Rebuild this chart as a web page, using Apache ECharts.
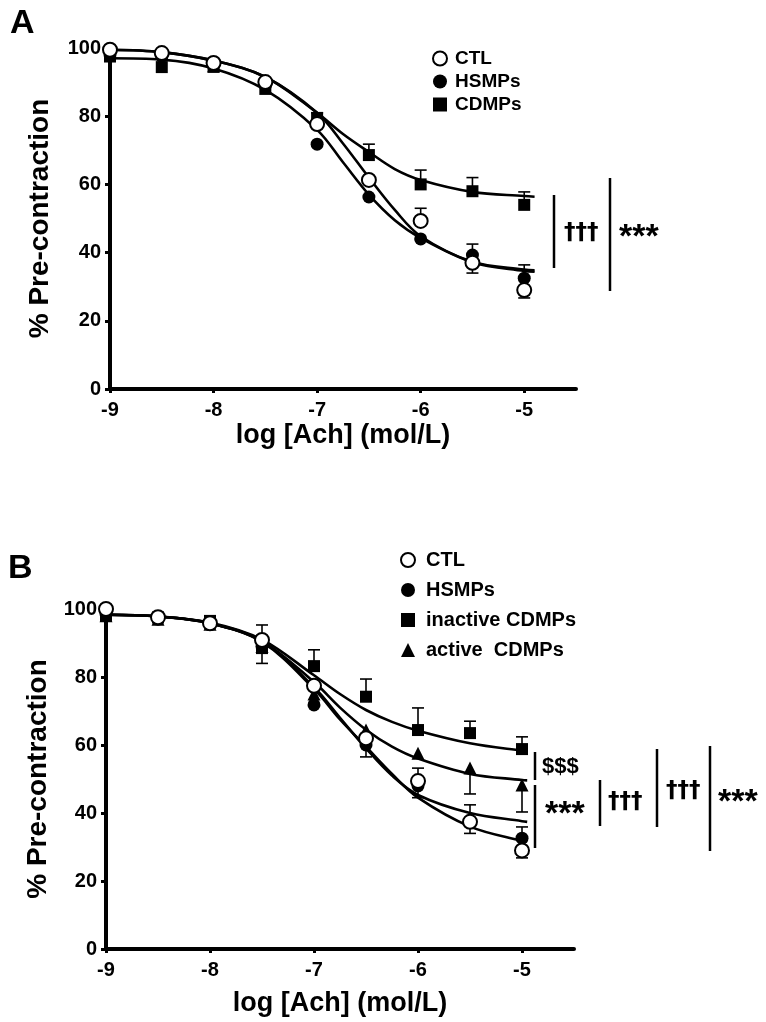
<!DOCTYPE html>
<html><head><meta charset="utf-8">
<script src="https://cdn.jsdelivr.net/npm/echarts@6/dist/echarts.min.js"></script>
<style>html,body{margin:0;padding:0;background:#fff}#c{width:766px;height:1022px}</style>
</head><body><div id="c"></div>
<script>
// ---------- shared ----------
const doses = [-9, -8.5, -8, -7.5, -7, -6.5, -6, -5.5, -5];
const xTicks = [-9, -8, -7, -6, -5];
const yTicks = [0, 20, 40, 60, 80, 100];

// ---------- Panel A ----------
const aNames = ['CTL', 'HSMPs', 'CDMPs'];
const aCtl  = [99.5, 98.5, 95.6, 90.0, 77.7, 61.3, 49.3, 37.0, 29.0];
const aHsmp = [98.0, 97.5, 95.0, 89.0, 71.8, 56.3, 44.0, 39.3, 32.5];
const aCdmp = [97.5, 94.4, 94.5, 88.0, 79.5, 68.6, 60.0, 58.0, 54.0];
const aCtlUp    = [null, null, null, null, null, null, 53.0, null, null];
const aCtlDown  = [null, null, 93.0, null, null, null, null, 34.0, 26.7];
const aHsmpUp   = [null, null, null, null, null, null, null, 42.5, 36.4];
const aCdmpUp   = [null, null, null, null, 81.0, 71.8, 64.2, 62.0, 57.8];
const aFitX     = [-9, -8.5, -8, -7.5, -7, -6.75, -6.5, -6.25, -6, -5.5, -5, -4.9];
const aCtlFit   = [99.5, 98.8, 96.3, 91.5, 81.0, 72.0, 62.0, 52.5, 44.8, 37.3, 35.0, 34.8];
const aHsmpFit  = [97.0, 96.6, 94.0, 87.7, 76.0, 66.5, 57.0, 49.5, 44.3, 37.2, 34.6, 34.4];
const aCdmpFit  = [99.5, 98.8, 96.3, 91.5, 81.0, 74.8, 69.5, 64.5, 61.3, 57.8, 56.6, 56.4];

// ---------- Panel B ----------
const bNames = ['CTL', 'HSMPs', 'inactive CDMPs', 'active  CDMPs'];
const bCtl   = [100.0, 97.6, 95.8, 90.9, 77.4, 62.0, 49.4, 37.4, 29.0];
const bHsmp  = [98.5, 97.0, 95.5, 89.0, 71.8, 60.0, 48.0, 37.5, 32.6];
const bInact = [98.0, 97.5, 96.5, 88.5, 83.2, 74.2, 64.4, 63.5, 58.8];
const bAct   = [98.0, 97.0, 95.5, 89.0, 75.0, 64.4, 57.6, 53.2, 48.2];
const bCtlUp    = [null, null, null, 95.3, null, null, 53.2, 42.4, null];
const bCtlDown  = [null, null, null, 84.0, null, null, 44.5, 34.0, 26.8];
const bHsmpUp   = [null, null, null, null, null, null, null, null, 35.9];
const bHsmpDown = [null, null, null, null, null, 56.5, null, null, null];
const bInactUp  = [null, null, null, null, 88.0, 79.4, 70.9, 67.0, 62.4];
const bActDown  = [null, null, null, null, null, null, null, 45.6, 40.3];
const bFitX     = [-9, -8.5, -8, -7.5, -7, -6.75, -6.5, -6.25, -6, -5.5, -5, -4.95];
const bCtlFit   = [98.3, 97.8, 95.8, 90.5, 77.0, 68.0, 59.0, 51.0, 45.3, 40.0, 37.6, 37.4];
const bHsmpFit  = [98.3, 97.8, 95.8, 90.3, 76.5, 67.5, 59.5, 51.5, 44.5, 36.0, 31.8, 31.6];
const bInactFit = [98.3, 97.8, 96.0, 91.0, 80.5, 75.0, 70.3, 66.8, 64.2, 60.5, 58.3, 58.2];
const bActFit   = [98.3, 97.8, 95.8, 90.5, 78.5, 71.0, 64.5, 59.5, 56.0, 51.5, 49.7, 49.6];

// ---------- helpers ----------
const FONT = '"Liberation Sans", Arial, sans-serif';
const pairs = (xs, ys) => xs.map((x, i) => [x, ys[i]]);
function errData(means, ...ends) {
  const out = [];
  ends.forEach(arr => arr.forEach((e, i) => { if (e != null) out.push([doses[i], means[i], e]); }));
  return out;
}
function errRender(params, api) {
  const x = api.value(0), m = api.value(1), e = api.value(2);
  const p0 = api.coord([x, m]), p1 = api.coord([x, e]);
  const hw = 6;
  return { type: 'group', children: [
    { type: 'line', shape: { x1: p0[0], y1: p0[1], x2: p1[0], y2: p1[1] }, style: { stroke: '#000', lineWidth: 1.6 } },
    { type: 'line', shape: { x1: p1[0] - hw, y1: p1[1], x2: p1[0] + hw, y2: p1[1] }, style: { stroke: '#000', lineWidth: 1.6 } }
  ]};
}
function fitLine(name, xs, ys, idx) {
  return { type: 'line', name: name + ' fit', xAxisIndex: idx, yAxisIndex: idx, data: pairs(xs, ys),
    smooth: 0.35, showSymbol: false, symbol: 'none', silent: true, z: 2,
    lineStyle: { color: '#000', width: 2.6 } };
}
function errSeries(data, idx) {
  return { type: 'custom', xAxisIndex: idx, yAxisIndex: idx, data: data, renderItem: errRender,
    encode: { x: 0, y: [1, 2] }, silent: true, z: 3 };
}
const markerStyles = {
  'CTL': { symbol: 'circle', symbolSize: 14, itemStyle: { color: '#fff', borderColor: '#000', borderWidth: 2, opacity: 1 }, z: 6 },
  'HSMPs': { symbol: 'circle', symbolSize: 13, itemStyle: { color: '#000', opacity: 1 }, z: 5 },
  'CDMPs': { symbol: 'rect', symbolSize: 12, itemStyle: { color: '#000', opacity: 1 }, z: 4 },
  'inactive CDMPs': { symbol: 'rect', symbolSize: 12, itemStyle: { color: '#000', opacity: 1 }, z: 4 },
  'active  CDMPs': { symbol: 'triangle', symbolSize: 13, itemStyle: { color: '#000', opacity: 1 }, z: 4 }
};
function markers(name, ys, idx) {
  const s = markerStyles[name];
  return Object.assign({ type: 'scatter', name: name, xAxisIndex: idx, yAxisIndex: idx,
    data: pairs(doses, ys), silent: true }, JSON.parse(JSON.stringify(s)));
}
function xAxis(idx, gap) {
  return { type: 'value', gridIndex: idx, min: -9, max: -4.5, interval: 1,
    name: 'log [Ach] (mol/L)', nameLocation: 'middle', nameGap: gap,
    nameTextStyle: { fontFamily: FONT, fontWeight: 'bold', fontSize: 27, color: '#000' },
    axisLine: { onZero: false, lineStyle: { color: '#000', width: 4 } },
    axisTick: { show: true, length: 4, customValues: xTicks, lineStyle: { color: '#000', width: 3 } },
    axisLabel: { customValues: xTicks, margin: 11, fontFamily: FONT, fontWeight: 'bold', fontSize: 20, color: '#000' },
    splitLine: { show: false } };
}
function yAxis(idx, gap) {
  return { type: 'value', gridIndex: idx, min: 0, max: 100, interval: 20,
    name: '% Pre-contraction', nameLocation: 'middle', nameGap: gap, nameRotate: 90,
    nameTextStyle: { fontFamily: FONT, fontWeight: 'bold', fontSize: 28, color: '#000' },
    axisLine: { show: true, onZero: false, lineStyle: { color: '#000', width: 4 } },
    axisTick: { show: true, length: 5, lineStyle: { color: '#000', width: 3 } },
    axisLabel: { margin: 9, fontFamily: FONT, fontWeight: 'bold', fontSize: 20, color: '#000' },
    splitLine: { show: false } };
}
function annLine(x, y1, y2) {
  return { type: 'line', shape: { x1: x, y1: y1, x2: x, y2: y2 }, style: { stroke: '#000', lineWidth: 2.5 } };
}
function annText(t, x, y, size, fam) {
  return { type: 'text', x: x, y: y, style: { text: t, fill: '#000', font: 'bold ' + size + 'px ' + (fam || FONT),
    textAlign: 'left', textVerticalAlign: 'middle' } };
}
const DAG = '"DejaVu Sans", "Liberation Sans", sans-serif';

const chart = echarts.init(document.getElementById('c'), null, { renderer: 'canvas' });
chart.setOption({
  backgroundColor: '#fff',
  animation: false,
  title: [
    { text: 'A', left: 5, top: 2, textStyle: { fontFamily: FONT, fontWeight: 'bold', fontSize: 34, color: '#000' } },
    { text: 'B', left: 3, top: 547, textStyle: { fontFamily: FONT, fontWeight: 'bold', fontSize: 34, color: '#000' } }
  ],
  grid: [
    { left: 110, top: 48, width: 466, height: 341 },
    { left: 106, top: 609, width: 468, height: 340 }
  ],
  xAxis: [xAxis(0, 33), xAxis(1, 41)],
  yAxis: [yAxis(0, 56), yAxis(1, 53)],
  legend: [
    { data: aNames, orient: 'vertical', left: 427, top: 44, itemWidth: 14, itemHeight: 14, itemGap: 4,
      selectedMode: false, textStyle: { fontFamily: FONT, fontWeight: 'bold', fontSize: 19, lineHeight: 19, color: '#000', padding: [0, 0, 0, 3] } },
    { data: bNames, orient: 'vertical', left: 395, top: 545, itemWidth: 14, itemHeight: 14, itemGap: 10,
      selectedMode: false, textStyle: { fontFamily: FONT, fontWeight: 'bold', fontSize: 20, lineHeight: 20, color: '#000', padding: [0, 0, 0, 6] } }
  ],
  graphic: [
    annLine(554, 195, 268), annText('†††', 564, 233, 23, DAG),
    annLine(610, 178, 291), annText('***', 619, 238, 34),
    annLine(535, 752, 780), annText('$$$', 542, 767, 22),
    annLine(535, 785, 848), annText('***', 545, 815, 34),
    annLine(600, 780, 826), annText('†††', 608, 802, 23, DAG),
    annLine(657, 749, 827), annText('†††', 666, 791, 23, DAG),
    annLine(710, 746, 851), annText('***', 718, 803, 34)
  ],
  series: [
    fitLine('A CTL', aFitX, aCtlFit, 0),
    fitLine('A HSMPs', aFitX, aHsmpFit, 0),
    fitLine('A CDMPs', aFitX, aCdmpFit, 0),
    errSeries(errData(aCtl, aCtlUp, aCtlDown), 0),
    errSeries(errData(aHsmp, aHsmpUp), 0),
    errSeries(errData(aCdmp, aCdmpUp), 0),
    markers('CDMPs', aCdmp, 0),
    markers('HSMPs', aHsmp, 0),
    markers('CTL', aCtl, 0),

    fitLine('B CTL', bFitX, bCtlFit, 1),
    fitLine('B HSMPs', bFitX, bHsmpFit, 1),
    fitLine('B inactive', bFitX, bInactFit, 1),
    fitLine('B active', bFitX, bActFit, 1),
    errSeries(errData(bCtl, bCtlUp, bCtlDown), 1),
    errSeries(errData(bHsmp, bHsmpUp, bHsmpDown), 1),
    errSeries(errData(bInact, bInactUp), 1),
    errSeries(errData(bAct, bActDown), 1),
    markers('inactive CDMPs', bInact, 1),
    markers('active  CDMPs', bAct, 1),
    markers('HSMPs', bHsmp, 1),
    markers('CTL', bCtl, 1)
  ]
});
</script>
</body></html>
